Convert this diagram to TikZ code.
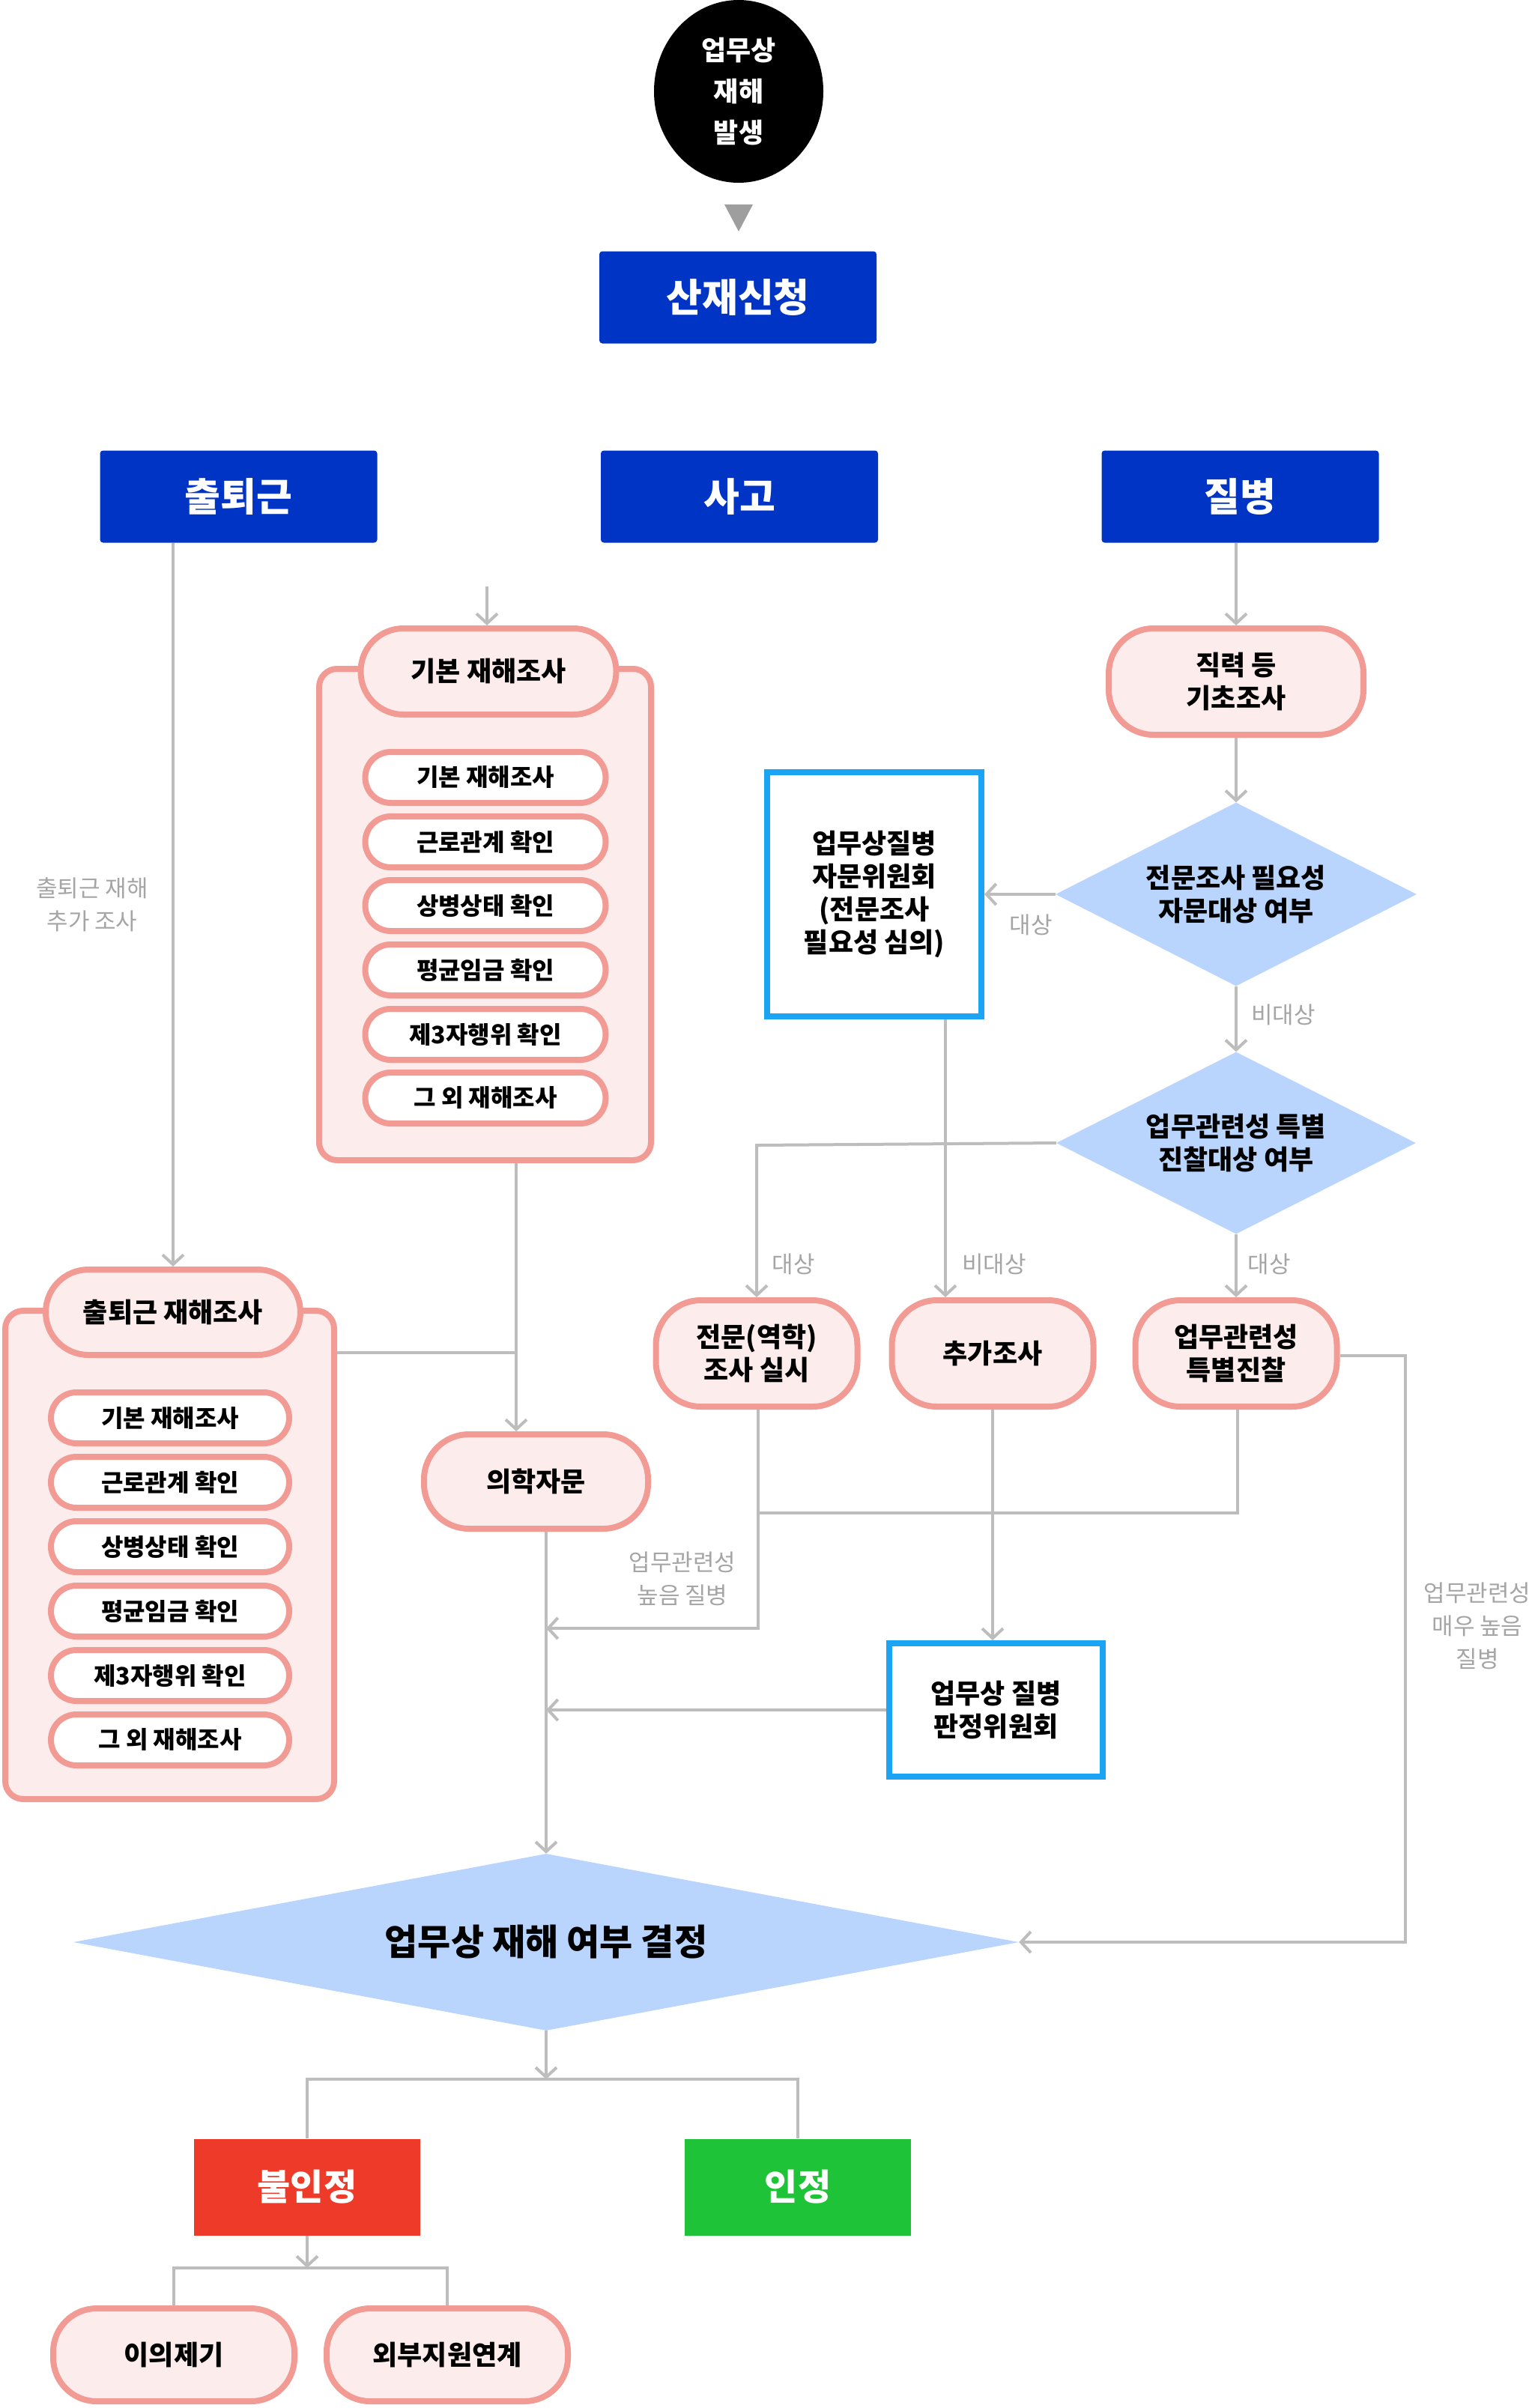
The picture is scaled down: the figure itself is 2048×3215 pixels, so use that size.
\documentclass[tikz,border=0pt]{standalone}
\usepackage{fontspec}
\setmainfont{Noto Sans CJK KR}
\usetikzlibrary{arrows.meta,shapes.geometric,calc}
\definecolor{hblue}{RGB}{0,52,196}
\definecolor{pinkb}{RGB}{242,155,148}
\definecolor{pinkf}{RGB}{253,236,236}
\definecolor{dblue}{RGB}{185,213,253}
\definecolor{cyanb}{RGB}{28,164,244}
\definecolor{lgrey}{RGB}{189,189,189}
\definecolor{tgrey}{RGB}{165,165,165}
\definecolor{tri}{RGB}{158,158,158}
\definecolor{redb}{RGB}{238,58,41}
\definecolor{greenb}{RGB}{30,195,55}
\begin{document}
\begin{tikzpicture}[x=1pt,y=-1pt,
  ln/.style={draw=lgrey, line width=4pt},
  arr/.style={draw=lgrey, line width=4pt, -{Straight Barb[length=13pt,width=28pt]}},
  hdr/.style={fill=hblue, text=white, font=\bfseries\fontsize{52}{60}\selectfont, minimum width=370pt, minimum height=123pt, rounded corners=4pt, inner sep=0pt},
  pillA/.style={draw=pinkb, line width=8pt, fill=pinkf, font=\bfseries\fontsize{36}{44}\selectfont, align=center, inner sep=0pt},
  pillW/.style={pillA, fill=white, font=\bfseries\fontsize{32}{40}\selectfont, minimum height=68pt, rounded corners=34pt},
  grp/.style={draw=pinkb, line width=8pt, fill=pinkf, rounded corners=24pt, inner sep=0pt},
  cbox/.style={draw=cyanb, line width=8pt, fill=white, align=center, font=\bfseries\fontsize{36}{44}\selectfont, inner sep=0pt},
  dia/.style={diamond, fill=dblue, aspect=2, inner sep=0pt, align=center, font=\bfseries\fontsize{36}{44}\selectfont},
  lab/.style={text=tgrey, font=\fontsize{31}{44}\selectfont, align=center},
  solid box/.style={text=white, font=\bfseries\fontsize{48}{58}\selectfont, minimum width=302pt, minimum height=129pt, inner sep=0pt}
]
\useasboundingbox (0,0) rectangle (2048,3215);

% top
\node[ellipse, fill=black, minimum width=226pt, minimum height=244pt, inner sep=0pt,
      text=white, align=center, font=\bfseries\fontsize{36}{55}\selectfont] (ell) at (986,122) {업무상\\재해\\발생};
\fill[tri] (967,273) -- (1005,273) -- (986,309) -- cycle;
\node[hdr] (sj) at (985,397) {산재신청};

\node[hdr] (ch) at (318.5,663) {출퇴근};
\node[hdr] (sg) at (987,663) {사고};
\node[hdr] (jb) at (1655.5,663) {질병};

% 기본 재해조사 group
\node[grp, minimum width=443pt, minimum height=656pt] (g1) at (647.5,1221) {};
\node[pillA, minimum width=341pt, minimum height=115pt, rounded corners=57pt] (h1) at (652,896.5) {기본 재해조사};
\node[pillW, minimum width=321pt] (a1) at (648,1038) {기본 재해조사};
\node[pillW, minimum width=321pt] (a2) at (648,1124) {근로관계 확인};
\node[pillW, minimum width=321pt] (a3) at (648,1209) {상병상태 확인};
\node[pillW, minimum width=321pt] (a4) at (648,1295) {평균임금 확인};
\node[pillW, minimum width=321pt] (a5) at (648,1381) {제3자행위 확인};
\node[pillW, minimum width=321pt] (a6) at (648,1466) {그 외 재해조사};

% 출퇴근 재해조사 group
\node[grp, minimum width=439pt, minimum height=652pt] (g2) at (226.5,2076) {};
\node[pillA, minimum width=340pt, minimum height=114pt, rounded corners=57pt] (h2) at (231,1752) {출퇴근 재해조사};
\node[pillW, minimum width=318pt] (b1) at (227,1893) {기본 재해조사};
\node[pillW, minimum width=318pt] (b2) at (227,1979) {근로관계 확인};
\node[pillW, minimum width=318pt] (b3) at (227,2065) {상병상태 확인};
\node[pillW, minimum width=318pt] (b4) at (227,2151) {평균임금 확인};
\node[pillW, minimum width=318pt] (b5) at (227,2237) {제3자행위 확인};
\node[pillW, minimum width=318pt] (b6) at (227,2323) {그 외 재해조사};

% 질병 branch
\node[pillA, minimum width=340pt, minimum height=142pt, rounded corners=60pt] (jr) at (1650,910) {직력 등\\기초조사};
\node[dia, minimum width=482pt, minimum height=245pt] (d1) at (1650,1194) {전문조사 필요성\\자문대상 여부};
\node[cbox, minimum width=286pt, minimum height=326pt] (box1) at (1167,1194) {업무상질병\\자문위원회\\(전문조사\\필요성 심의)};
\node[dia, minimum width=480pt, minimum height=243pt] (d2) at (1650,1526) {업무관련성 특별\\진찰대상 여부};

\node[pillA, minimum width=269pt, minimum height=142pt, rounded corners=60pt] (p1) at (1010,1807) {전문(역학)\\조사 실시};
\node[pillA, minimum width=269pt, minimum height=142pt, rounded corners=60pt] (p2) at (1325,1807) {추가조사};
\node[pillA, minimum width=269pt, minimum height=142pt, rounded corners=60pt] (p3) at (1650,1807) {업무관련성\\특별진찰};

\node[pillA, minimum width=299pt, minimum height=126pt, rounded corners=60pt] (med) at (715.5,1978) {의학자문};
\node[cbox, minimum width=285pt, minimum height=178pt] (box2) at (1329.5,2283) {업무상 질병\\판정위원회};

\node[diamond, fill=dblue, aspect=5.3, inner sep=0pt, minimum width=1262pt, minimum height=236pt,
      font=\bfseries\fontsize{48}{56}\selectfont] (dec) at (729,2593) {업무상 재해 여부 결정};

\node[solid box, fill=redb] (bi) at (410,2920) {불인정};
\node[solid box, fill=greenb] (in) at (1065,2920) {인정};

\node[pillA, minimum width=322pt, minimum height=124pt, rounded corners=58pt] (o1) at (232,3144) {이의제기};
\node[pillA, minimum width=322pt, minimum height=124pt, rounded corners=58pt] (o2) at (597,3144) {외부지원연계};

% labels
\node[lab] (l1) at (123,1208) {출퇴근 재해\\추가 조사};
\node[lab] (l2) at (1376,1235) {대상};
\node[lab] (l3) at (1713,1355) {비대상};
\node[lab] (l4) at (1059,1688) {대상};
\node[lab] (l5) at (1327,1688) {비대상};
\node[lab] (l6) at (1694,1688) {대상};
\node[lab] (l7) at (911,2108) {업무관련성\\높음 질병};
\node[lab] (l8) at (1972,2171) {업무관련성\\매우 높음\\질병};

% connectors
\draw[arr] (ch.south -| h2.north) -- (h2.north);
\coordinate (s1) at (650,783);
\draw[arr] (s1) -- (s1 |- h1.north);
\coordinate (vx) at (689,1806);
\draw[ln] (g1.south -| vx) -- (vx);
\draw[ln] (g2.east |- vx) -- (vx);
\draw[arr] (vx) -- (vx |- med.north);

\draw[arr] (jb.south -| jr.north) -- (jr.north);
\draw[arr] (jr.south) -- (d1.north);
\draw[arr] (d1.west) -- (box1.east);
\draw[arr] (d1.south) -- (d2.north);
\coordinate (k1) at (1010,1529);
\draw[arr] (d2.west) -- (k1) -- (p1.north);
\coordinate (k2) at (1262,1361);
\draw[arr] (k2) -- (k2 |- p2.north);
\draw[arr] (d2.south) -- (p3.north);

\coordinate (k3) at (1012,2174);
\coordinate (k4) at (1652,2020);
\coordinate (vm) at (729,2174);
\draw[arr] (k3 |- p1.south) -- (k3) -- (vm);
\draw[ln] (k4 |- p3.south) -- (k4) -- (k4 -| k3);
\draw[arr] (p2.south) -- (p2.south |- box2.north);
\draw[arr] (box2.west) -- (box2.west -| vm);
\coordinate (k5) at (1876,1810);
\draw[arr] (p3.east |- k5) -- (k5) -- (k5 |- dec.east) -- (dec.east);
\draw[arr] (med.south -| dec.north) -- (dec.north);

\coordinate (j1) at (729,2776);
\draw[arr] (dec.south) -- (dec.south |- j1);
\draw[ln] (bi.north) -- (bi.north |- j1) -- (in.north |- j1) -- (in.north);
\coordinate (j2) at (410,3028);
\draw[arr] (bi.south) -- (j2);
\draw[ln] (o1.north) -- (o1.north |- j2) -- (o2.north |- j2) -- (o2.north);
\end{tikzpicture}
\end{document}
